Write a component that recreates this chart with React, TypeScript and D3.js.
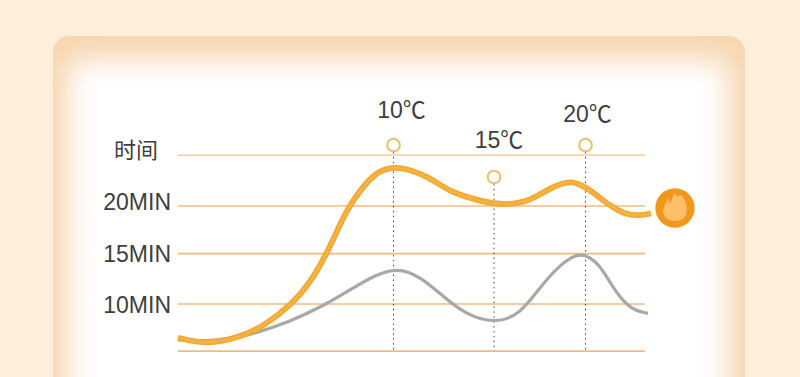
import React from "react";
import * as d3 from "d3";

const W = 800, H = 377;
const yTickLabels = ["时间", "20MIN", "15MIN", "10MIN"];
const gridValues = [25.2, 20, 15.15, 10, 5.2];
const labelBaselineOffset = [3, 4, 8, 9];
const tempNumbers = ["10", "15", "20"];
const tempUnit = "℃";
const tempX = [393.5, 494, 585.5];
const tempCircleValue = [26.22, 22.96, 26.22];
const tempLabelBaselineValue = [28.98, 25.92, 28.57];
const tempLabelCenterX = [401.5, 499, 587.5];
const orangeX = [178, 207, 240, 265, 292, 310, 328, 340, 350, 375, 398, 430, 450, 480, 505, 530, 550, 572, 590, 610, 625, 640, 651];
const orangeV = [6.55, 5.85, 6.6, 7.8, 10, 12.1, 15.4, 18.1, 20.2, 23.6, 24.15, 22.95, 21.4, 20.5, 20.05, 20.5, 21.85, 22.75, 21.65, 20.0, 19.15, 19.0, 19.25];
const grayX = [178, 207, 230, 250, 290, 325, 350, 375, 397, 420, 445, 465, 494, 520, 540, 560, 580, 600, 612, 630, 648];
const grayV = [6.33, 6.2, 6.48, 6.84, 8.19, 9.9, 11.43, 12.96, 13.7, 12.85, 10.61, 9.0, 8.0, 8.9, 11.73, 14.0, 15.45, 14.1, 11.73, 9.4, 9.05];

const x = d3.scaleLinear().domain([0, 800]).range([0, 800]);
const y = d3.scaleLinear().domain([10, 20]).range([304, 206]);
const line = d3.line<number>().x((d) => x(d)).curve(d3.curveBasis);

export default function App() {
  const path = (xs: number[], vs: number[]) =>
    line.y((_, i) => y(vs[i]))(xs) ?? "";
  const orange = path(orangeX, orangeV);
  const gray = path(grayX, grayV);
  const font = "'Liberation Sans', 'Noto Sans CJK SC', sans-serif";
  const cjk = "'Noto Sans CJK SC', sans-serif";
  return (
    <svg width={W} height={H} viewBox={`0 0 ${W} ${H}`} style={{ position: "fixed", left: 0, top: 0, display: "block" }}>
      <defs>
        <clipPath id="card"><rect x={53} y={36} width={692} height={360} rx={16} /></clipPath>
        <filter id="glow" x="-20%" y="-20%" width="140%" height="140%"><feGaussianBlur stdDeviation={14} /></filter>
        <filter id="soft" x="-5%" y="-5%" width="110%" height="110%"><feGaussianBlur stdDeviation={0.55} /></filter>
        <filter id="softer" x="-5%" y="-5%" width="110%" height="110%"><feGaussianBlur stdDeviation={0.9} /></filter>
      </defs>
      <rect width={W} height={H} fill="#feeeda" />
      <g clipPath="url(#card)">
        <rect x={53} y={36} width={692} height={360} fill="#f6d6b0" />
        <rect x={68} y={60} width={660} height={400} fill="#ffffff" filter="url(#glow)" />
      </g>
      {gridValues.map((v) => (
        <line key={v} x1={178} x2={645} y1={y(v)} y2={y(v)} stroke={v === 25.2 ? "#eec487" : "#f1bb80"} strokeWidth={v === 25.2 ? 1.3 : 1.7} />
      ))}
      {yTickLabels.map((t, i) => (
        <text key={t} x={i === 0 ? 136 : 171} y={y(gridValues[i]) + labelBaselineOffset[i]} textAnchor={i === 0 ? "middle" : "end"} fontFamily={i === 0 ? cjk : font} fontSize={i === 0 ? 22 : 23} fill="#3e3e3e">
          {t}
        </text>
      ))}
      {tempX.map((tx, i) => (
        <g key={tempNumbers[i]}>
          <line x1={x(tx)} x2={x(tx)} y1={y(tempCircleValue[i]) + 7} y2={y(gridValues[4])} stroke="#444" strokeWidth={1} strokeDasharray="1.5 3.4" />
          <circle cx={x(tx)} cy={y(tempCircleValue[i])} r={6.3} fill="#fff" stroke="#eec06a" strokeWidth={2.1} />
          <text x={x(tempLabelCenterX[i])} y={y(tempLabelBaselineValue[i])} textAnchor="middle" fontFamily={font} fontSize={23} fill="#3e3e3e">
            {tempNumbers[i]}
            <tspan fontFamily={cjk}>{tempUnit}</tspan>
          </text>
        </g>
      ))}
      <path d={gray} fill="none" stroke="#aaa8a6" strokeWidth={3.2} filter="url(#soft)" />
      <path d={orange} fill="none" stroke="#f1a42c" strokeWidth={5.8} filter="url(#soft)" />
      <path d={orange} fill="none" stroke="#f8bd55" strokeWidth={2} filter="url(#softer)" />
      <circle cx={675} cy={208} r={19.7} fill="#f1981a" />
      <path d="M675 193 C677 198 680 197 680 194 C685 199 688 206 686.5 213 C685 219 680 221 675 221 C669 221 665 219 663.5 213 C662.5 208 666 203 668 198 C669 201 670 203 671 203 C671 200 673 196 675 193 Z" fill="#fdbf68" />
    </svg>
  );
}
